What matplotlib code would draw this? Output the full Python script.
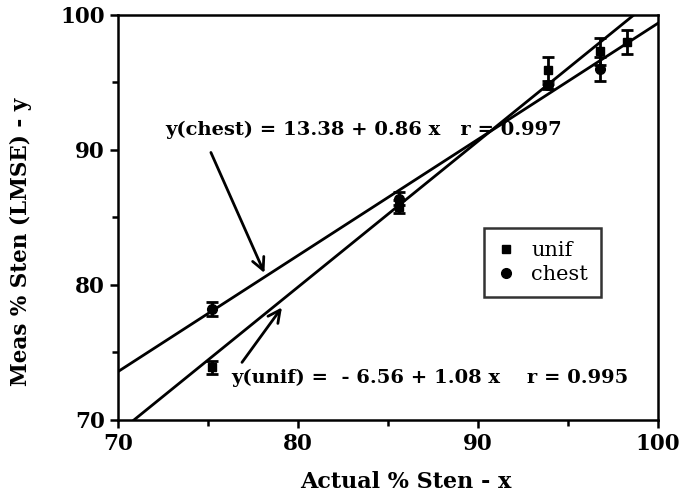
import matplotlib
matplotlib.use("Agg")
import matplotlib.pyplot as plt
from matplotlib.lines import Line2D
import numpy as np

# data
unif_x = [75.2, 85.6, 93.9, 96.8, 98.3]
unif_y = [73.9, 85.8, 95.9, 97.3, 98.0]
unif_err = [0.5, 0.5, 1.0, 1.0, 0.9]

chest_x = [75.2, 85.6, 93.9, 96.8]
chest_y = [78.2, 86.4, 94.8, 96.0]
chest_err = [0.5, 0.5, 0.3, 0.9]

fit_x = [70, 100]
chest_fit = (13.38, 0.86)
unif_fit = (-6.56, 1.08)

plt.rcParams["font.family"] = "DejaVu Serif"

fig = plt.figure(figsize=(6.8, 4.97), dpi=100)
ax = fig.add_axes([0.1735, 0.155, 0.794, 0.815])

xs = np.array(fit_x, dtype=float)
ax.plot(xs, chest_fit[0] + chest_fit[1] * xs, color="black", lw=2)
ax.plot(xs, unif_fit[0] + unif_fit[1] * xs, color="black", lw=2)

ax.errorbar(unif_x, unif_y, yerr=unif_err, fmt="s", color="black", ms=6,
            capsize=4, capthick=2, elinewidth=2)
ax.plot(unif_x, unif_y, "s", color="white", ms=1.5)
ax.errorbar(chest_x, chest_y, yerr=chest_err, fmt="o", color="black", ms=7,
            capsize=4, capthick=2, elinewidth=2)

ax.set_xlim(70, 100)
ax.set_ylim(70, 100)
ax.set_xticks([70, 80, 90, 100])
ax.set_yticks([70, 80, 90, 100])
ax.set_xticks([75, 85, 95], minor=True)
ax.set_yticks([75, 85, 95], minor=True)
ax.tick_params(which="major", direction="out", length=6, width=1.8,
               labelsize=15.5)
ax.tick_params(which="minor", direction="out", length=4, width=1.8)
for lab in ax.get_xticklabels() + ax.get_yticklabels():
    lab.set_fontweight("bold")
for sp in ax.spines.values():
    sp.set_linewidth(1.8)

ax.set_xlabel("Actual % Sten - x", fontsize=16, fontweight="bold")
ax.set_ylabel("Meas % Sten (LMSE) - y", fontsize=15.5, fontweight="bold")
ax.xaxis.set_label_coords(0.533, -0.125)
ax.yaxis.set_label_coords(-0.16, 0.44)

ax.text(72.6, 91.5, "y(chest) = 13.38 + 0.86 x   r = 0.997", fontsize=14,
        fontweight="bold", va="center", ha="left")
ax.text(76.3, 73.1, "y(unif) =  - 6.56 + 1.08 x    r = 0.995", fontsize=14,
        fontweight="bold", va="center", ha="left")

ax.annotate("", xy=(78.2, 80.7), xytext=(75.1, 90.0),
            arrowprops=dict(arrowstyle="->", lw=2, color="black",
                            mutation_scale=22))
ax.annotate("", xy=(79.2, 78.5), xytext=(76.8, 74.1),
            arrowprops=dict(arrowstyle="->", lw=2, color="black",
                            mutation_scale=22))

handles = [
    Line2D([], [], ls="none", marker="s", color="black", ms=6),
    Line2D([], [], ls="none", marker="o", color="black", ms=7),
]
leg = ax.legend(handles, ["unif", "chest"], loc="upper left",
                bbox_to_anchor=(0.677, 0.473), frameon=True, fancybox=False,
                fontsize=15, handletextpad=0.7, borderpad=0.6,
                labelspacing=0.25, handlelength=1.0, borderaxespad=0)
leg.get_frame().set_edgecolor("black")
leg.get_frame().set_linewidth(1.8)

fig.savefig("out.png", dpi=100)
